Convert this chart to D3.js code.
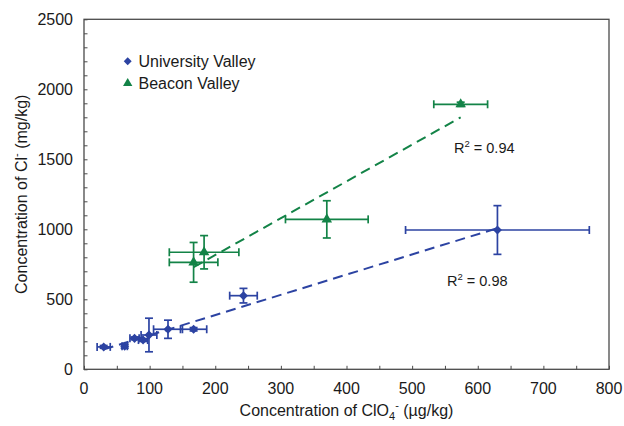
<!DOCTYPE html>
<html>
<head>
<meta charset="utf-8">
<script src="https://cdn.jsdelivr.net/npm/d3@7"></script>
<style>
  html, body { margin: 0; padding: 0; background: #fff; }
  svg { display: block; font-family: "Liberation Sans", Arial, sans-serif; }
</style>
</head>
<body>
<svg id="chart" width="624" height="426"></svg>
<script>
// University Valley (blue diamonds)
const uvX    = [30, 62, 77, 90, 99, 128, 167, 243, 630];
const uvY    = [160, 165, 221, 209, 245, 286, 286, 526, 995];
const uvXErr = [10, 4, 7, 7, 12, 22, 20, 21, 140];
const uvYErr = [10, 14, 10, 10, 120, 65, 12, 52, 174];
// Beacon Valley (green triangles)
const bvX    = [167, 183, 370, 574];
const bvY    = [764, 836, 1071, 1893];
const bvXErr = [37, 53, 63, 41];
const bvYErr = [142, 119, 133, 15];

const xTicks = [0, 100, 200, 300, 400, 500, 600, 700, 800];
const yTicks = [0, 500, 1000, 1500, 2000, 2500];
const r2Labels = ["0.98", "0.94"];
const seriesNames = ["University Valley", "Beacon Valley"];

const blue = "#2c43a2", green = "#138347", axisCol = "#4a4a4a";

const svg = d3.select("#chart");
const L = 84, R = 609, T = 19.3, B = 369.3;
const x = d3.scaleLinear().domain([0, 800]).range([L, R]);
const y = d3.scaleLinear().domain([0, 2500]).range([B, T]);

// frame
svg.append("rect").attr("x", L).attr("y", T).attr("width", R - L).attr("height", B - T)
  .attr("fill", "none").attr("stroke", axisCol).attr("stroke-width", 1.3);

// inner ticks
const xAxis = d3.axisBottom(x).tickValues(d3.range(0, 801, 50)).tickSize(-3.5).tickFormat("");
const gx = svg.append("g").attr("transform", `translate(0,${B})`).call(xAxis);
gx.select(".domain").remove();
gx.selectAll("line").attr("stroke", axisCol);
const yAxis = d3.axisLeft(y).tickValues(d3.range(0, 2501, 100)).tickSize(-3.5).tickFormat("");
const gy = svg.append("g").attr("transform", `translate(${L},0)`).call(yAxis);
gy.select(".domain").remove();
gy.selectAll("line").attr("stroke", axisCol);

// tick labels
svg.append("g").selectAll("text").data(xTicks).join("text")
  .attr("x", d => x(d)).attr("y", 394).attr("text-anchor", "middle")
  .attr("font-size", 16).attr("fill", "#1a1a1a").text(d => d);
svg.append("g").selectAll("text").data(yTicks).join("text")
  .attr("x", 73).attr("y", d => y(d)).attr("dy", "0.36em").attr("text-anchor", "end")
  .attr("font-size", 16).attr("fill", "#1a1a1a").text(d => d);

// axis titles
const xt = svg.append("text").attr("x", (L + R) / 2).attr("y", 416).attr("text-anchor", "middle")
  .attr("font-size", 16).attr("fill", "#1a1a1a");
xt.append("tspan").text("Concentration of ClO");
xt.append("tspan").attr("font-size", 11).attr("dy", 4).text("4");
xt.append("tspan").attr("font-size", 11).attr("dy", -11).text("-");
xt.append("tspan").attr("dy", 7).text(" (µg/kg)");

const yt = svg.append("text").attr("transform", `translate(27,${(T + B) / 2}) rotate(-90)`)
  .attr("text-anchor", "middle").attr("font-size", 16).attr("fill", "#1a1a1a");
yt.append("tspan").text("Concentration of Cl");
yt.append("tspan").attr("font-size", 11).attr("dy", -7).text("-");
yt.append("tspan").attr("dy", 7).text(" (mg/kg)");

// trendlines (least squares over each series)
function fit(xs, ys) {
  const mx = d3.mean(xs), my = d3.mean(ys);
  let sxy = 0, sxx = 0;
  xs.forEach((v, i) => { sxy += (v - mx) * (ys[i] - my); sxx += (v - mx) ** 2; });
  const m = sxy / sxx;
  return { m, b: my - m * mx };
}
function trend(xs, ys, col) {
  const f = fit(xs, ys);
  const x0 = d3.min(xs), x1 = d3.max(xs);
  svg.append("line")
    .attr("x1", x(x0)).attr("y1", y(f.m * x0 + f.b))
    .attr("x2", x(x1)).attr("y2", y(f.m * x1 + f.b))
    .attr("stroke", col).attr("stroke-width", 2).attr("stroke-dasharray", "10,6");
}
trend(uvX, uvY, blue);
trend(bvX, bvY, green);

// error bars
function errBars(xs, ys, xe, ye, col) {
  const g = svg.append("g").attr("stroke", col).attr("stroke-width", 1.7).attr("fill", "none");
  const cap = 4;
  xs.forEach((xv, i) => {
    const cx = x(xv), cy = y(ys[i]);
    const xl = x(xv - xe[i]), xr = x(xv + xe[i]);
    const yt2 = y(ys[i] + ye[i]), yb = y(ys[i] - ye[i]);
    g.append("line").attr("x1", xl).attr("x2", xr).attr("y1", cy).attr("y2", cy);
    g.append("line").attr("x1", xl).attr("x2", xl).attr("y1", cy - cap).attr("y2", cy + cap);
    g.append("line").attr("x1", xr).attr("x2", xr).attr("y1", cy - cap).attr("y2", cy + cap);
    g.append("line").attr("x1", cx).attr("x2", cx).attr("y1", yt2).attr("y2", yb);
    g.append("line").attr("x1", cx - cap).attr("x2", cx + cap).attr("y1", yt2).attr("y2", yt2);
    g.append("line").attr("x1", cx - cap).attr("x2", cx + cap).attr("y1", yb).attr("y2", yb);
  });
}
errBars(uvX, uvY, uvXErr, uvYErr, blue);
errBars(bvX, bvY, bvXErr, bvYErr, green);

// markers
const diamond = d3.symbol().type(d3.symbolDiamond2).size(52);
const tri = d3.symbol().type(d3.symbolTriangle).size(48);
svg.append("g").selectAll("path").data(uvX).join("path")
  .attr("d", diamond).attr("fill", blue)
  .attr("transform", (d, i) => `translate(${x(d)},${y(uvY[i])})`);
svg.append("g").selectAll("path").data(bvX).join("path")
  .attr("d", tri).attr("fill", green)
  .attr("transform", (d, i) => `translate(${x(d)},${y(bvY[i])})`);

// R² labels
function r2(px, py, val) {
  const t = svg.append("text").attr("x", px).attr("y", py).attr("font-size", 14.5).attr("fill", "#1a1a1a");
  t.append("tspan").text("R");
  t.append("tspan").attr("font-size", 9.5).attr("dy", -6).text("2");
  t.append("tspan").attr("dy", 6).text(" = " + val);
}
r2(447, 286, r2Labels[0]);
r2(454, 153, r2Labels[1]);

// legend
svg.append("path").attr("d", d3.symbol().type(d3.symbolDiamond2).size(40))
  .attr("fill", blue).attr("transform", "translate(127.7,61.3)");
svg.append("path").attr("d", d3.symbol().type(d3.symbolTriangle).size(38))
  .attr("fill", green).attr("transform", "translate(127.7,83.3)");
svg.append("text").attr("x", 138.5).attr("y", 67).attr("font-size", 16).attr("fill", "#1a1a1a").text(seriesNames[0]);
svg.append("text").attr("x", 138.5).attr("y", 89).attr("font-size", 16).attr("fill", "#1a1a1a").text(seriesNames[1]);
</script>
</body>
</html>
